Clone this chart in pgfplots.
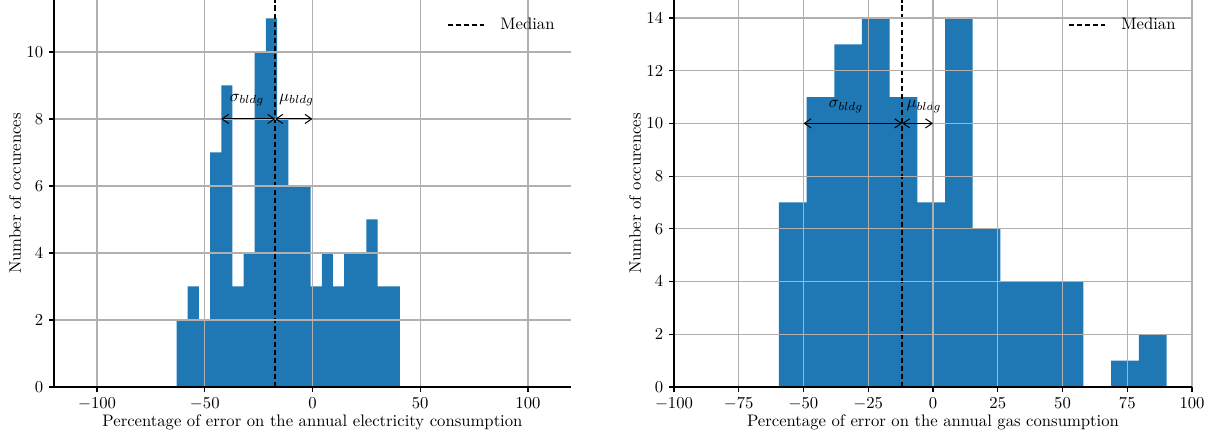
\documentclass[border=0pt]{standalone}
\usepackage{pgfplots}
\pgfplotsset{compat=1.18}
\usetikzlibrary{arrows.meta}
\definecolor{tabblue}{RGB}{31,119,180}
\definecolor{gridgray}{RGB}{176,176,176}
\tikzset{annarrow/.style={{Straight Barb[length=4pt,width=5.5pt]}-{Straight Barb[length=4pt,width=5.5pt]}, line width=0.6pt, black}}
\pgfplotsset{
  histo/.style={
    scale only axis,
    height=232.2pt,
    axis x line*=bottom, axis y line*=left,
    axis line style={-, line width=0.8pt, black},
    tick align=outside, major tick length=3pt,
    tick style={black, line width=0.7pt},
    grid=major,
    major grid style={gridgray, line width=0.7pt},
    axis on top,
    ymin=0,
    ylabel={Number of occurences},
    xlabel shift=-4pt,
    ylabel shift=-3.6pt,
    legend style={draw=none, fill=none, at={(0.985,0.972)}, anchor=north east, font=\normalsize},
    legend cell align=left,
    legend image code/.code={\draw[#1] (0pt,0pt) -- (22pt,0pt); \path (29pt,0pt);},
  }
}
\begin{document}
\begin{tikzpicture}
\begin{axis}[histo,
  at={(0pt,0pt)}, anchor=south west,
  width=310.2pt,
  xmin=-120, xmax=120, ymax=11.55,
  xtick={-100,-50,0,50,100},
  ytick={0,2,4,6,8,10},
  xlabel={Percentage of error on the annual electricity consumption},
]
\addplot[ybar interval, fill=tabblue, draw=none, forget plot] coordinates {
(-63.10,2) (-57.92,3) (-52.73,2) (-47.55,7) (-42.36,9)
(-37.18,3) (-31.99,4) (-26.81,10) (-21.62,11) (-16.44,8)
(-11.25,6) (-6.07,6) (-0.88,3) (4.31,4) (9.49,3)
(14.68,4) (19.86,4) (25.05,5) (30.23,3) (35.42,3) (40.60,3)
};
\addplot[black, line width=0.6pt, forget plot] coordinates {(0,0) (0,11.55)};
\addplot[black, line width=1.1pt, dash pattern=on 3.3pt off 1.5pt] coordinates {(-17.3,0) (-17.3,11.55)};
\addlegendentry{Median}
\coordinate (A1) at (axis cs:-42.4,8);
\coordinate (A2) at (axis cs:-17.3,8);
\coordinate (A3) at (axis cs:0,8);
\node at (axis cs:-30.4,8.57) {$\sigma_{bldg}$};
\node at (axis cs:-7.4,8.57) {$\mu_{bldg}$};
\end{axis}
\draw[annarrow] (A1) -- (A2);
\draw[annarrow] (A2) -- (A3);
\begin{axis}[histo,
  at={(372pt,0pt)}, anchor=south west,
  width=310.8pt,
  xmin=-100, xmax=100, ymax=14.68,
  xtick={-100,-75,-50,-25,0,25,50,75,100},
  ytick={0,2,4,6,8,10,12,14},
  xlabel={Percentage of error on the annual gas consumption},
]
\addplot[ybar interval, fill=tabblue, draw=none, forget plot] coordinates {
(-59.50,7) (-48.81,11) (-38.12,13) (-27.43,14) (-16.74,11)
(-6.05,7) (4.64,14) (15.33,6) (26.02,4) (36.71,4)
(47.40,4) (58.09,0) (68.78,1) (79.47,2) (90.16,2)
};
\addplot[black, line width=0.6pt, forget plot] coordinates {(0,0) (0,14.68)};
\addplot[black, line width=1.1pt, dash pattern=on 3.3pt off 1.5pt] coordinates {(-11.9,0) (-11.9,14.68)};
\addlegendentry{Median}
\coordinate (B1) at (axis cs:-50,10);
\coordinate (B2) at (axis cs:-11.9,10);
\coordinate (B3) at (axis cs:0,10);
\node at (axis cs:-33.6,10.64) {$\sigma_{bldg}$};
\node at (axis cs:-3.5,10.64) {$\mu_{bldg}$};
\end{axis}
\draw[annarrow] (B1) -- (B2);
\draw[annarrow] (B2) -- (B3);
\pgfresetboundingbox
\path (-32.4pt,-30.6pt) rectangle (696.6pt,232.2pt);
\end{tikzpicture}
\end{document}
